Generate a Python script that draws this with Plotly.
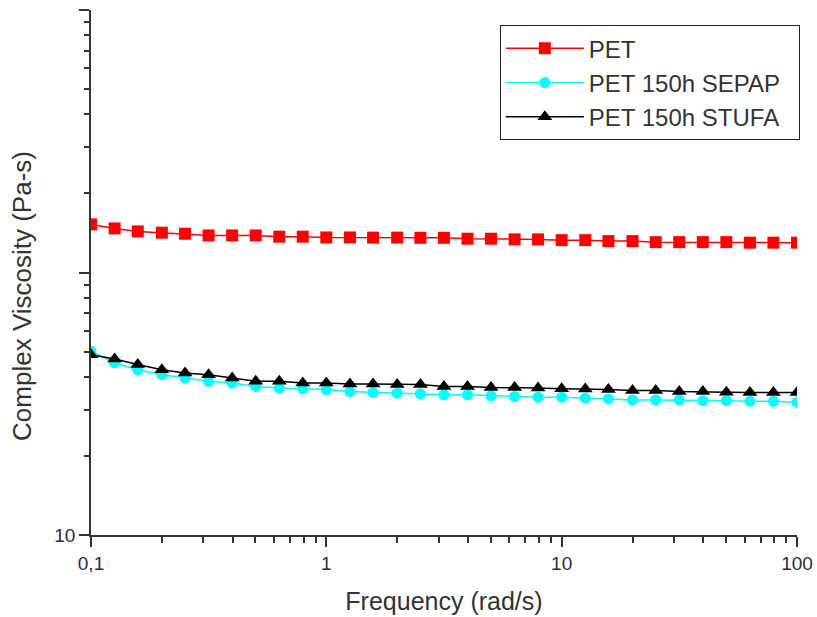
import numpy as np
import plotly.graph_objects as go

# Frequency (rad/s): 10 points per decade, 0.1 .. 100
freq = [0.1, 0.126, 0.158, 0.2, 0.251, 0.316, 0.398, 0.501, 0.631, 0.794,
        1.0, 1.26, 1.58, 2.0, 2.51, 3.16, 3.98, 5.01, 6.31, 7.94,
        10.0, 12.6, 15.8, 20.0, 25.1, 31.6, 39.8, 50.1, 63.1, 79.4, 100.0]

pet = [152.5, 147.2, 143.4, 141.8, 140.5, 138.4, 138.4, 138.4, 136.9, 136.9,
       136.0, 136.0, 135.8, 135.8, 135.6, 135.6, 134.5, 134.5, 133.7, 133.7,
       132.8, 132.8, 131.7, 131.7, 130.5, 130.5, 130.5, 130.5, 129.9, 129.9, 129.9]

sepap = [50.1, 45.3, 42.6, 40.8, 39.7, 38.5, 37.9, 36.8, 36.3, 36.0,
         35.8, 35.2, 34.9, 34.7, 34.5, 34.2, 34.2, 33.9, 33.7, 33.5,
         33.5, 33.2, 33.0, 32.7, 32.7, 32.7, 32.5, 32.5, 32.3, 32.3, 32.0]

stufa = [48.6, 46.8, 44.6, 42.6, 41.4, 40.8, 39.6, 38.5, 38.5, 37.9,
         37.9, 37.6, 37.6, 37.4, 37.4, 36.8, 36.8, 36.5, 36.5, 36.3,
         36.1, 36.0, 35.8, 35.5, 35.5, 35.2, 35.2, 35.0, 34.9, 34.9, 34.9]

series_names = ["PET", "PET 150h SEPAP", "PET 150h STUFA"]

x_tickvals = [0.1, 1, 10, 100]
x_ticktext = ["0,1", "1", "10", "100"]
y_tickvals = [10, 100, 1000]
y_ticktext = ["10", "", ""]

x_minor = [m * d for d in (0.1, 1, 10) for m in range(2, 10)]
y_minor = [m * d for d in (10, 100) for m in range(2, 10)]

FONT = "Arial, Liberation Sans, sans-serif"
AX = "#333333"
TICKC = "#2b2b4a"
TITLEC = "#333333"
PAD = "\u00a0\u00a0"  # trailing space inside legend box

fig = go.Figure()
fig.add_trace(go.Scatter(x=freq, y=pet, name=series_names[0] + PAD, mode="lines+markers",
                         line=dict(color="#ff0000", width=1.5),
                         marker=dict(symbol="square", size=12, color="#ff0000")))
fig.add_trace(go.Scatter(x=freq, y=sepap, name=series_names[1] + PAD, mode="lines+markers",
                         line=dict(color="#00ffff", width=1.5),
                         marker=dict(symbol="circle", size=11, color="#00ffff")))
fig.add_trace(go.Scatter(x=freq, y=stufa, name=series_names[2] + PAD, mode="lines+markers",
                         line=dict(color="#000000", width=1.5),
                         marker=dict(symbol="triangle-up", size=13, color="#000000")))

fig.update_layout(
    width=817, height=617,
    margin=dict(l=91, r=20, t=10, b=82, autoexpand=False),
    paper_bgcolor="white", plot_bgcolor="white",
    font=dict(family=FONT, color=AX),
    showlegend=True,
    legend=dict(x=1.004, xanchor="right", y=0.971, yanchor="top",
                bordercolor="#222222", borderwidth=1, bgcolor="white",
                font=dict(size=24, color=TITLEC, family=FONT),
                itemwidth=78, tracegroupgap=0),
    xaxis=dict(type="log", range=[-1, 2], showgrid=False, zeroline=False,
               automargin=False,
               showline=True, linecolor=AX, linewidth=1.5,
               ticks="outside", ticklen=10, tickwidth=1.5, tickcolor=AX,
               tickmode="array", tickvals=x_tickvals, ticktext=x_ticktext,
               tickfont=dict(size=19, color=TICKC),
               minor=dict(tickmode="array", tickvals=x_minor, ticks="outside",
                          ticklen=6, tickwidth=1.5, tickcolor=AX, showgrid=False),
               title=dict(text="Frequency (rad/s)", font=dict(size=25, color=TITLEC),
                          standoff=20)),
    yaxis=dict(type="log", range=[1, 3], showgrid=False, zeroline=False,
               automargin=False,
               showline=True, linecolor=AX, linewidth=1.5,
               ticks="outside", ticklen=10, tickwidth=1.5, tickcolor=AX,
               tickmode="array", tickvals=y_tickvals, ticktext=y_ticktext,
               tickfont=dict(size=19, color=TICKC),
               minor=dict(tickmode="array", tickvals=y_minor, ticks="outside",
                          ticklen=5, tickwidth=1.5, tickcolor=AX, showgrid=False)),
    annotations=[dict(text="Complex Viscosity (Pa-s)", textangle=-90,
                      xref="paper", yref="paper", x=-0.098, y=0.455,
                      xanchor="center", yanchor="middle", showarrow=False,
                      font=dict(size=26, color=TITLEC, family=FONT))],
)

fig.write_html("out.html")
